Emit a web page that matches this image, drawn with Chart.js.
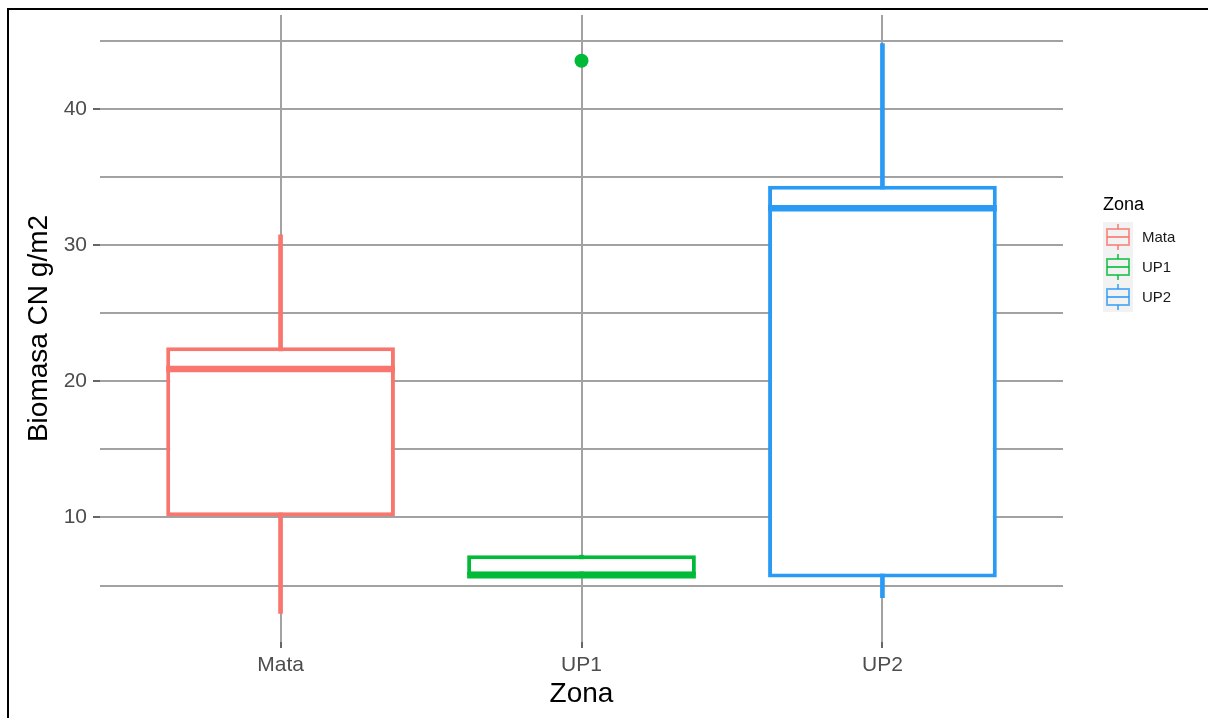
<!DOCTYPE html>
<html>
<head>
<meta charset="utf-8">
<title>Biomasa CN por zona</title>
<script src="https://cdn.jsdelivr.net/npm/chart.js@4.4.1/dist/chart.umd.min.js"></script>
<style>
  html, body { margin: 0; padding: 0; background: #ffffff; }
  #wrap { position: relative; width: 1208px; height: 718px; overflow: hidden; }
  #frame { position: absolute; left: 7px; top: 8px; right: -4px; bottom: -4px;
           border-top: 2px solid #000; border-left: 2px solid #000; pointer-events: none; }
  canvas { display: block; }
</style>
</head>
<body>
<div id="wrap">
  <canvas id="chart" width="1208" height="718"></canvas>
  <div id="frame"></div>
</div>
<script>
// Boxplot statistics per zone (g/m2)
const zonas       = ['Mata', 'UP1', 'UP2'];
const whiskerLow  = [2.95, 5.76, 4.12];
const q1          = [10.09, 5.76, 5.59];
const median      = [20.9, 5.76, 32.7];
const q3          = [22.5, 7.23, 34.35];
const whiskerHigh = [30.75, 7.23, 44.8];

// Points beyond the whiskers
const outlierZona  = ['UP1'];
const outlierValue = [43.53];

// Axis ticks: labelled major ticks and unlabelled minor grid lines
const yMajorTicks = [10, 20, 30, 40];
const yMinorTicks = [5, 15, 25, 35, 45];

const zonaColors = ['#F8766D', '#00BA38', '#2B9AF5'];

const FONT = "'Liberation Sans', Arial, Helvetica, sans-serif";
Chart.defaults.font.family = FONT;

const xPos = zonas.map((_, i) => i + 1);

// y range padded by 5% of the data span on each side
const allValues = whiskerLow.concat(whiskerHigh, outlierValue);
const yLo = Math.min(...allValues), yHi = Math.max(...allValues);
const ySpan = yHi - yLo;
const yMin = yLo - 0.05 * ySpan, yMax = yHi + 0.05 * ySpan;

const GRID = '#a2a2a2';

// Median bars drawn across each box, using the box elements' geometry
const medianPlugin = {
  id: 'medianLines',
  afterDatasetsDraw(chart) {
    const meta = chart.getDatasetMeta(1);
    const y = chart.scales.y;
    const c = chart.ctx;
    c.save();
    c.lineCap = 'butt';
    meta.data.forEach((el, i) => {
      const py = y.getPixelForValue(median[i]);
      c.strokeStyle = zonaColors[i];
      c.lineWidth = 6.5;
      c.beginPath();
      c.moveTo(el.x - el.width / 2, py);
      c.lineTo(el.x + el.width / 2, py);
      c.stroke();
    });
    c.restore();
  }
};

// Legend with small boxplot keys on a light grey panel
const legendPlugin = {
  id: 'zonaLegend',
  afterDraw(chart) {
    const c = chart.ctx;
    const left = 1103, keyW = 30, keyH = 30, top = 222;
    c.save();
    c.fillStyle = '#000';
    c.font = `18px ${FONT}`;
    c.textBaseline = 'middle';
    c.textAlign = 'left';
    c.fillText('Zona', left, 205);
    c.fillStyle = '#f2f2f2';
    c.fillRect(left, top, keyW, keyH * zonas.length);
    zonas.forEach((z, i) => {
      const cy = top + keyH * i + keyH / 2;
      const cx = left + keyW / 2;
      c.globalAlpha = 0.8;
      c.strokeStyle = zonaColors[i];
      c.lineWidth = 1.8;
      c.beginPath();
      c.moveTo(cx, cy - 13); c.lineTo(cx, cy - 8);
      c.moveTo(cx, cy + 8); c.lineTo(cx, cy + 13);
      c.moveTo(left + 4, cy); c.lineTo(left + keyW - 4, cy);
      c.stroke();
      c.strokeRect(left + 4, cy - 8, keyW - 8, 16);
      c.globalAlpha = 1;
      c.fillStyle = '#1a1a1a';
      c.font = `15px ${FONT}`;
      c.fillText(z, 1142, cy + 1);
    });
    c.restore();
  }
};

new Chart(document.getElementById('chart'), {
  type: 'bar',
  data: {
    datasets: [
      {
        label: 'whisker',
        data: xPos.map((x, i) => ({ x, y: [whiskerLow[i], whiskerHigh[i]] })),
        backgroundColor: zonaColors,
        borderWidth: 0,
        barThickness: 4,
        grouped: false,
        order: 3
      },
      {
        label: 'box',
        data: xPos.map((x, i) => ({ x, y: [q1[i], q3[i]] })),
        backgroundColor: '#ffffff',
        borderColor: zonaColors,
        borderWidth: 4,
        borderSkipped: false,
        barPercentage: 0.76,
        categoryPercentage: 1,
        grouped: false,
        order: 2
      },
      {
        type: 'scatter',
        label: 'outlier',
        data: outlierZona.map((z, i) => ({ x: zonas.indexOf(z) + 1, y: outlierValue[i] })),
        backgroundColor: outlierZona.map(z => zonaColors[zonas.indexOf(z)]),
        borderWidth: 0,
        pointRadius: 7,
        order: 1
      }
    ]
  },
  options: {
    responsive: false,
    animation: false,
    devicePixelRatio: 1,
    layout: { padding: { left: 0, top: 15, right: 145, bottom: 0 } },
    plugins: { legend: { display: false }, tooltip: { enabled: false } },
    scales: {
      x: {
        type: 'linear',
        min: 0.4,
        max: 3.6,
        offset: false,
        border: { display: false },
        grid: { color: GRID, lineWidth: 2, offset: false, drawTicks: true,
                tickLength: 6, tickColor: '#333333', tickWidth: 1.5 },
        afterBuildTicks: s => { s.ticks = xPos.map(v => ({ value: v })); },
        ticks: {
          autoSkip: false, maxRotation: 0, padding: 5,
          color: '#4d4d4d', font: { size: 21 },
          callback: v => zonas[v - 1]
        },
        title: { display: true, text: 'Zona', color: '#000', font: { size: 28 },
                 padding: { top: 0, bottom: 7 } },
        afterFit: s => { s.height = 76; s.paddingLeft = 0; s.paddingRight = 0; }
      },
      y: {
        type: 'linear',
        min: yMin,
        max: yMax,
        border: { display: false },
        grid: {
          color: GRID, lineWidth: 2, drawTicks: true, tickLength: 7, tickWidth: 1.5,
          tickColor: c => (c.tick && yMajorTicks.includes(c.tick.value)) ? '#333333' : 'rgba(0,0,0,0)'
        },
        afterBuildTicks: s => {
          s.ticks = yMinorTicks.concat(yMajorTicks).sort((a, b) => a - b).map(v => ({ value: v }));
        },
        ticks: {
          padding: 6, color: '#4d4d4d', font: { size: 21 },
          callback: v => yMajorTicks.includes(v) ? String(v) : ''
        },
        title: { display: true, text: 'Biomasa CN g/m2', color: '#000', font: { size: 28 },
                 padding: { top: 22, bottom: 0 } },
        afterFit: s => { s.width = 100; s.paddingTop = 0; s.paddingBottom = 0; }
      }
    }
  },
  plugins: [medianPlugin, legendPlugin]
});
</script>
</body>
</html>
